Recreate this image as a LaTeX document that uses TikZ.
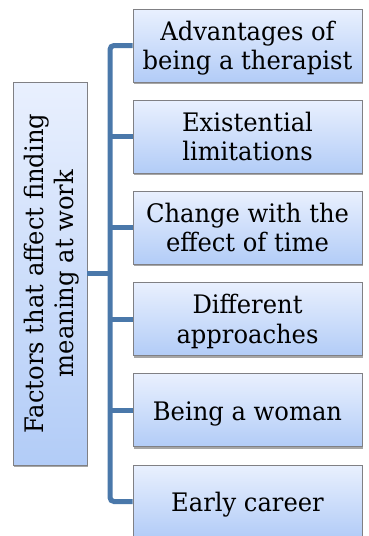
\documentclass[tikz,border=0pt]{standalone}
\usepackage{fontspec}
\setmainfont{DejaVu Serif}[FakeStretch=0.95]
\usetikzlibrary{shadows,calc}
\definecolor{boxtop}{RGB}{233,240,254}
\definecolor{boxbot}{RGB}{178,204,247}
\definecolor{boxline}{RGB}{128,128,132}
\definecolor{conncol}{RGB}{74,120,170}
\tikzset{
  fbox/.style={draw=boxline, line width=0.8pt, top color=boxtop, bottom color=boxbot,
    drop shadow={shadow xshift=1.2pt, shadow yshift=-2pt, opacity=.35, fill=black},
    inner sep=0pt},
  rbox/.style={fbox, minimum height=73pt, minimum width=229pt},
  txt/.style={font=\fontsize{25.5}{29.5}\selectfont, align=center, inner sep=0pt,
    execute at begin node=\strut, execute at end node=\strut},
  conn/.style={draw=conncol, line width=5pt}
}
\begin{document}
\begin{tikzpicture}[x=1pt,y=-1pt]
\useasboundingbox (0,0) rectangle (368,536);
\node[fbox, minimum width=74pt, minimum height=383pt] (L) at (50,273.5) {};
\node[txt, rotate=90] (Lt) at ([xshift=3pt]L.center) {Factors that affect finding\\meaning at work};
\node[rbox] (b1) at (247.5,45.5) {};
\node[rbox] (b2) at (247.5,136.7) {};
\node[rbox] (b3) at (247.5,227.9) {};
\node[rbox] (b4) at (247.5,319.1) {};
\node[rbox] (b5) at (247.5,410.3) {};
\node[rbox] (b6) at (247.5,501.5) {};
\node[txt] (t1) at ([yshift=-4pt]b1.center) {Advantages of\\being a therapist};
\node[txt] (t2) at ([yshift=-4pt]b2.center) {Existential\\limitations};
\node[txt] (t3) at ([yshift=-4pt]b3.center) {Change with the\\effect of time};
\node[txt] (t4) at ([yshift=-4pt]b4.center) {Different\\approaches};
\node[txt] (t5) at ([yshift=-4pt]b5.center) {Being a woman};
\node[txt] (t6) at ([yshift=-4pt]b6.center) {Early career};
\coordinate (m) at ($(L.east)!0.5!(L.east -| b1.west)$);
\draw[conn, rounded corners=4pt] (b1.west) -- (b1.west -| m) -- (b6.west -| m) -- (b6.west);
\draw[conn] (b2.west) -- (b2.west -| m);
\draw[conn] (b3.west) -- (b3.west -| m);
\draw[conn] (b4.west) -- (b4.west -| m);
\draw[conn] (b5.west) -- (b5.west -| m);
\draw[conn] (L.east) -- (m);
\end{tikzpicture}
\end{document}
